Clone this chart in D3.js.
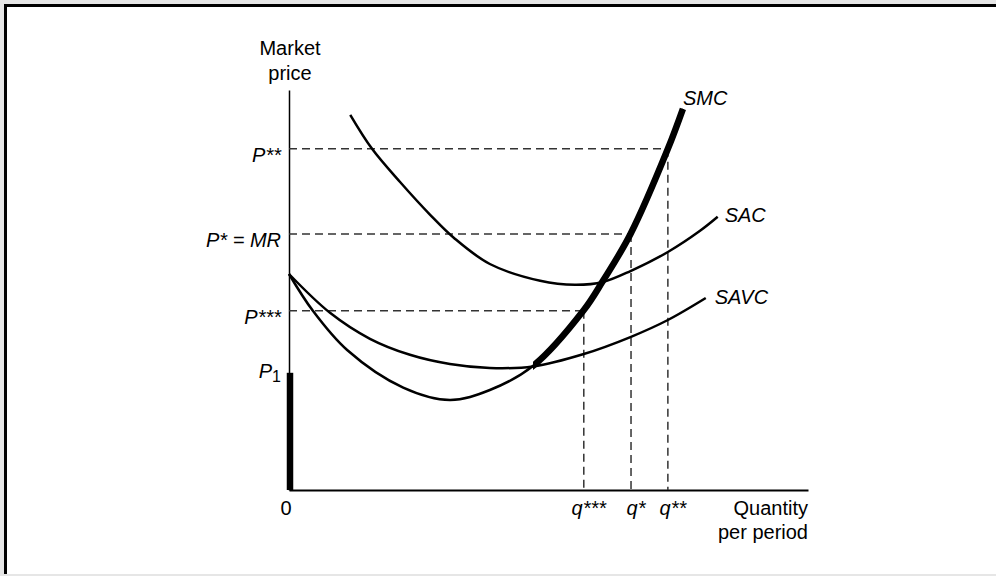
<!DOCTYPE html>
<html><head><meta charset="utf-8">
<script src="https://cdn.jsdelivr.net/npm/d3@7"></script>
<style>
html,body{margin:0;padding:0;background:#e6e6e6;}
svg{display:block;}
text{font-family:"Liberation Sans",Arial,Helvetica,sans-serif;font-size:20px;fill:#000;}
.it{font-style:italic;}
</style></head><body>
<svg id="c" width="996" height="576"></svg>
<script>
// ---- data (quantity, price) in abstract units ----
const smcCurve = [[0,54],[4.6,44.8],[11.2,35],[22,25.6],[31,22.5],[38.7,25],[47,31],[56.7,44.8],[60.5,52.3],[65.8,64],[73,85.3],[75.9,95.3]];
const savcCurve = [[0,54],[7.9,44.3],[15.6,37.8],[23.3,33.8],[31,31.5],[38.7,30.5],[47,30.9],[56.8,34],[65.9,38.3],[73,42.5],[80.3,48]];
const sacCurve = [[11.8,93.8],[16,85.3],[21.4,77],[27.2,68.8],[31.8,63],[38.7,56.5],[48.4,52.3],[55.1,51.3],[60.5,52],[65.9,54.8],[73,59.5],[79.2,64.8],[82.6,68.3]];
const priceLabels = ["P**", "P* = MR", "P***"];
const priceValues = [85.3, 64, 44.8];
const qtyLabels = ["q***", "q*", "q**"];
const qtyValues = [56.8, 65.9, 73];
const dashPairs = [[0,2],[1,1],[2,0]]; // price index -> qty index
const p1Value = 29.3;
const thickFrom = 47;
const curveNames = ["SMC","SAC","SAVC"];

const svg = d3.select("#c");
// panel
svg.append("rect").attr("x",4).attr("y",4).attr("width",992).attr("height",570).attr("fill","#ffffff");
svg.append("line").attr("x1",4).attr("x2",996).attr("y1",5.5).attr("y2",5.5).attr("stroke","#000").attr("stroke-width",3);
svg.append("line").attr("x1",5.5).attr("x2",5.5).attr("y1",4).attr("y2",574).attr("stroke","#000").attr("stroke-width",3);

const x = d3.scaleLinear().domain([0,100]).range([289,808]);
const y = d3.scaleLinear().domain([0,100]).range([490,90]);

// axes
const gx = svg.append("g").attr("transform",`translate(0,${y(0)})`)
  .call(d3.axisBottom(x).tickValues([]).tickSizeOuter(0));
gx.select(".domain").attr("stroke","#000").attr("stroke-width",2);
const gy = svg.append("g").attr("transform",`translate(${x(0)},0)`)
  .call(d3.axisLeft(y).tickValues([]).tickSizeOuter(0));
gy.select(".domain").attr("stroke","#000").attr("stroke-width",1.5);

// dashed guides
const dash = svg.append("g").attr("stroke","#333").attr("stroke-width",1.5).attr("stroke-dasharray","8,5").attr("fill","none");
dashPairs.forEach(([pi,qi])=>{
  dash.append("line").attr("x1",x(0)).attr("x2",x(qtyValues[qi])).attr("y1",y(priceValues[pi])).attr("y2",y(priceValues[pi]));
  dash.append("line").attr("x1",x(qtyValues[qi])).attr("x2",x(qtyValues[qi])).attr("y1",y(priceValues[pi])).attr("y2",y(0));
});

// curves
const line = d3.line().x(d=>x(d[0])).y(d=>y(d[1])).curve(d3.curveCatmullRom.alpha(0.5));
[smcCurve,sacCurve,savcCurve].forEach(c=>{
  svg.append("path").attr("d",line(c)).attr("fill","none").attr("stroke","#000").attr("stroke-width",2.5);
});
// thick supply part of SMC
svg.append("clipPath").attr("id","thick").append("rect")
  .attr("x",x(thickFrom)).attr("y",0).attr("width",x(100)-x(thickFrom)).attr("height",y(0));
svg.append("path").attr("d",line(smcCurve)).attr("fill","none").attr("stroke","#000").attr("stroke-width",6.5)
  .attr("clip-path","url(#thick)");
// thick bar on price axis up to P1
svg.append("line").attr("x1",x(0)+1).attr("x2",x(0)+1).attr("y1",y(0)).attr("y2",y(p1Value))
  .attr("stroke","#000").attr("stroke-width",6.5);

// labels
const lab = svg.append("g");
lab.append("text").attr("x",x(0)+1).attr("y",55).attr("text-anchor","middle").text("Market");
lab.append("text").attr("x",x(0)+1).attr("y",80).attr("text-anchor","middle").text("price");
priceLabels.forEach((t,i)=>{
  lab.append("text").attr("class","it").attr("x",x(0)-8).attr("y",y(priceValues[i])+13).attr("text-anchor","end").text(t);
});
const p1 = lab.append("text").attr("class","it").attr("x",x(0)-8).attr("y",y(p1Value)+5).attr("text-anchor","end");
p1.append("tspan").text("P");
p1.append("tspan").attr("dy",4).style("font-size","16px").style("font-style","normal").text("1");
qtyLabels.forEach((t,i)=>{
  lab.append("text").attr("class","it").attr("x",x(qtyValues[i])+5).attr("y",515).attr("text-anchor","middle").text(t);
});
lab.append("text").attr("x",x(0)-3).attr("y",515).attr("text-anchor","middle").text("0");
lab.append("text").attr("x",x(100)).attr("y",515).attr("text-anchor","end").text("Quantity");
lab.append("text").attr("x",x(100)).attr("y",539).attr("text-anchor","end").text("per period");
const ends = [smcCurve[smcCurve.length-1], sacCurve[sacCurve.length-1], savcCurve[savcCurve.length-1]];
const offs = [[0,-4],[7,5],[9,6]];
curveNames.forEach((n,i)=>{
  lab.append("text").attr("class","it").attr("x",x(ends[i][0])+offs[i][0]).attr("y",y(ends[i][1])+offs[i][1]).text(n);
});
</script>
</body></html>
